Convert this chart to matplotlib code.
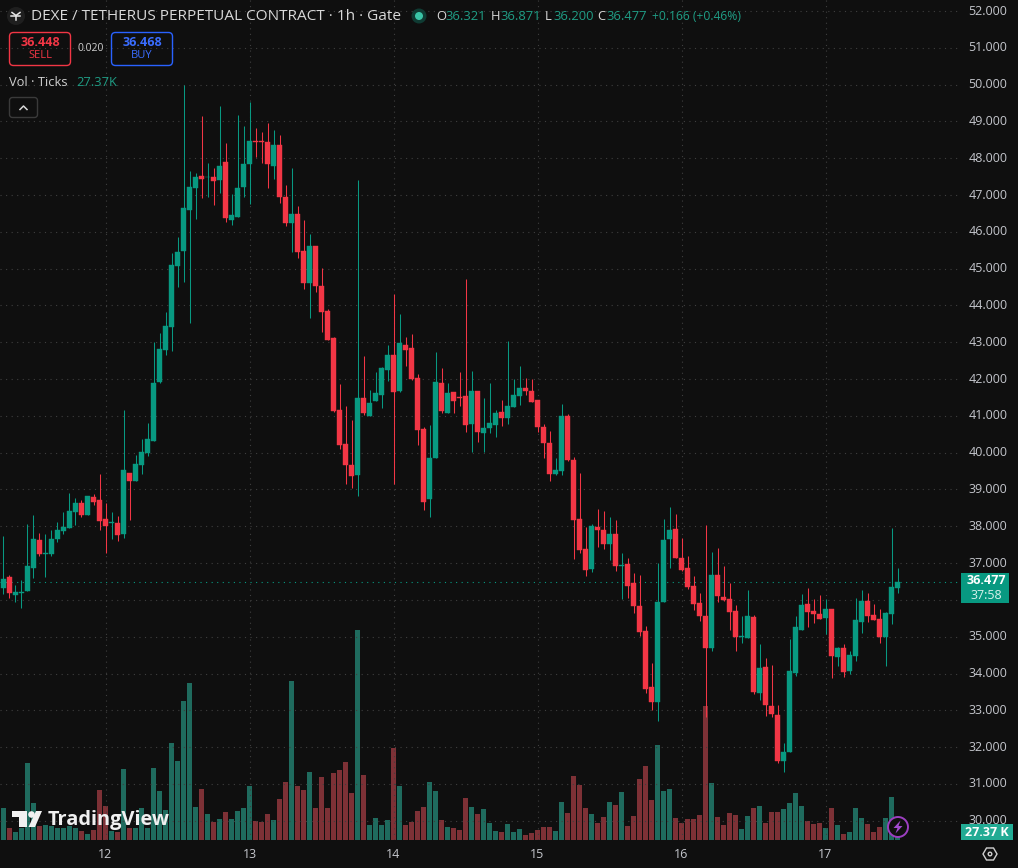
import matplotlib
matplotlib.use("Agg")
import matplotlib.pyplot as plt
from matplotlib.patches import Circle, FancyBboxPatch, Polygon, Rectangle

plt.rcParams["font.family"] = ["Open Sans", "DejaVu Sans"]

BG = "#0f0f0f"
GREEN = "#089981"
RED = "#f23645"
VOL_GREEN = "#1f6b5e"
VOL_RED = "#7d3136"
GRID = "#3f3f3f"
TEXT = "#c4c6cc"

opens = [36.33, 36.62, 36.13, 36.20, 36.24, 36.87, 37.63, 37.26, 37.25, 37.66,
         37.87, 37.95, 38.39, 38.63, 38.31, 38.80, 38.72, 38.20, 38.10, 38.09,
         37.79, 39.45, 39.23, 39.67, 39.99, 40.32, 41.93, 42.79, 43.42, 45.07,
         45.48, 46.59, 47.19, 47.52, 47.48, 47.49, 47.41, 47.90, 46.32, 46.41,
         47.22, 47.85, 48.47, 48.47, 48.44, 47.79, 48.36, 46.95, 46.24, 46.49,
         45.48, 44.61, 45.62, 44.53, 43.85, 43.12, 41.16, 40.24, 39.67, 39.39,
         41.49, 41.00, 41.40, 41.57, 42.25, 42.66, 41.68, 42.93, 42.85, 42.03,
         40.64, 38.74, 39.86, 41.89, 41.08, 41.65, 41.51, 41.54, 40.78, 41.68,
         40.53, 40.67, 40.75, 41.11, 40.94, 41.24, 41.54, 41.76, 41.68, 41.43,
         40.70, 40.26, 39.42, 39.50, 41.00, 39.80, 38.20, 37.38, 36.84, 37.98,
         37.90, 37.52, 37.79, 36.93, 36.97, 36.46, 35.83, 35.15, 33.63, 33.22,
         35.94, 37.65, 37.93, 37.14, 36.87, 36.38, 35.92, 35.56, 34.69, 36.68,
         36.08, 36.02, 35.70, 35.00, 34.97, 35.53, 33.47, 34.18, 33.12, 32.87,
         31.62, 31.87, 34.01, 35.18, 35.89, 35.70, 35.62, 35.51, 35.75, 34.45,
         34.69, 34.07, 34.47, 35.40, 35.97, 35.59, 35.48, 34.99, 35.62, 36.321]
highs = [37.74, 36.67, 36.41, 36.54, 38.06, 38.31, 37.81, 37.79, 37.90, 38.11,
         38.39, 38.91, 38.77, 38.72, 38.82, 38.88, 39.42, 38.63, 38.39, 38.28,
         41.16, 39.45, 39.94, 40.36, 40.81, 43.02, 43.24, 43.81, 45.42, 45.85,
         50.00, 47.65, 47.60, 49.15, 47.86, 47.74, 49.42, 48.41, 47.02, 49.18,
         48.88, 49.53, 48.82, 48.72, 48.96, 48.77, 48.63, 47.27, 47.74, 46.70,
         46.32, 45.94, 45.62, 45.02, 43.90, 43.14, 41.87, 41.27, 40.89, 47.41,
         42.63, 41.70, 42.19, 42.34, 42.93, 44.31, 43.77, 43.14, 43.23, 42.14,
         40.70, 40.75, 42.74, 42.30, 41.89, 41.65, 42.19, 44.72, 42.22, 41.68,
         41.49, 41.88, 41.16, 41.43, 43.03, 42.00, 42.36, 42.03, 42.00, 41.43,
         40.78, 40.59, 39.86, 41.32, 41.05, 39.87, 39.45, 37.98, 38.06, 38.47,
         38.42, 38.25, 38.17, 37.27, 37.14, 36.73, 36.68, 35.29, 34.29, 37.00,
         38.20, 38.52, 38.33, 37.68, 37.19, 36.65, 36.19, 38.04, 37.30, 37.41,
         36.92, 36.46, 35.86, 35.56, 36.27, 35.59, 34.80, 34.42, 34.23, 33.14,
         32.11, 34.94, 35.56, 36.16, 36.32, 36.02, 36.13, 36.02, 35.75, 34.72,
         34.80, 34.61, 36.05, 36.27, 36.19, 35.89, 35.75, 35.67, 37.95, 36.871]
lows = [36.16, 36.05, 35.93, 35.78, 36.24, 36.59, 37.19, 36.62, 37.19, 37.57,
        37.80, 37.95, 38.04, 38.25, 38.31, 38.58, 37.90, 37.28, 37.66, 37.60,
        37.68, 38.17, 39.23, 39.42, 39.91, 40.32, 41.90, 42.65, 42.77, 44.51,
        44.65, 43.53, 46.35, 46.92, 46.95, 46.73, 47.05, 46.27, 46.19, 46.41,
        46.95, 46.76, 48.03, 47.86, 47.19, 47.44, 46.79, 46.16, 45.45, 45.29,
        44.45, 43.66, 44.37, 43.28, 43.06, 41.11, 40.10, 39.15, 39.04, 38.82,
        41.02, 41.00, 41.40, 41.22, 41.95, 39.15, 41.65, 42.36, 41.98, 40.21,
        38.44, 38.25, 39.86, 41.08, 41.08, 41.08, 41.27, 40.56, 40.02, 40.29,
        40.02, 40.53, 40.43, 40.73, 40.78, 41.24, 41.30, 41.57, 41.38, 40.56,
        39.86, 39.23, 39.39, 39.39, 39.77, 37.11, 37.27, 36.65, 36.76, 37.44,
        37.38, 37.08, 36.79, 36.02, 36.04, 35.64, 35.02, 33.47, 33.00, 32.71,
        35.94, 36.87, 37.14, 36.79, 36.30, 35.73, 35.43, 32.82, 34.61, 35.94,
        35.97, 35.18, 34.61, 34.83, 34.97, 33.44, 33.28, 32.85, 32.82, 31.57,
        31.32, 31.87, 33.93, 35.18, 35.26, 35.37, 35.48, 35.07, 33.88, 34.20,
        33.90, 33.99, 34.34, 35.10, 35.40, 35.45, 34.83, 34.20, 35.35, 36.200]
closes = [36.56, 36.19, 36.22, 36.21, 36.93, 37.66, 37.24, 37.27, 37.66, 37.90,
          37.98, 38.42, 38.63, 38.31, 38.82, 38.66, 38.14, 38.01, 38.11, 37.76,
          39.53, 39.23, 39.69, 40.02, 40.37, 41.89, 42.81, 43.44, 45.10, 45.45,
          46.65, 47.22, 47.49, 47.44, 47.49, 47.38, 47.79, 46.38, 46.46, 47.19,
          47.85, 48.47, 48.44, 48.44, 47.85, 48.36, 46.95, 46.24, 46.49, 45.45,
          44.61, 45.62, 44.53, 43.82, 43.06, 41.13, 40.21, 39.67, 39.37, 41.49,
          41.08, 41.35, 41.62, 42.30, 42.66, 41.65, 42.98, 42.79, 42.00, 40.62,
          38.66, 39.86, 41.92, 41.13, 41.62, 41.40, 41.49, 40.75, 41.68, 40.56,
          40.67, 40.81, 41.08, 40.94, 41.27, 41.57, 41.76, 41.68, 41.38, 40.70,
          40.26, 39.42, 39.53, 41.00, 39.80, 38.17, 37.36, 36.81, 38.02, 37.90,
          37.52, 37.79, 36.92, 36.94, 36.38, 35.83, 35.13, 33.58, 33.22, 35.94,
          37.63, 37.90, 37.14, 36.81, 36.35, 35.89, 35.56, 34.69, 36.68, 36.11,
          36.00, 35.67, 34.99, 35.01, 35.56, 33.50, 34.15, 33.14, 32.90, 31.62,
          31.87, 34.07, 35.26, 35.86, 35.67, 35.62, 35.48, 35.75, 34.47, 34.69,
          34.04, 34.50, 35.45, 35.97, 35.56, 35.45, 34.99, 35.64, 36.35, 36.477]
volume_k = [114, 43, 29, 43, 275, 132, 50, 54, 50, 43,
            43, 50, 43, 32, 21, 36, 179, 121, 32, 29,
            253, 43, 43, 114, 43, 257, 175, 107, 346, 282,
            496, 560, 118, 182, 93, 64, 75, 100, 75, 104,
            114, 193, 68, 64, 93, 71, 146, 207, 568, 193,
            179, 243, 114, 225, 114, 239, 250, 278, 168, 750,
            232, 54, 79, 54, 71, 328, 193, 54, 64, 104,
            118, 207, 175, 71, 46, 43, 36, 150, 118, 93,
            111, 61, 32, 29, 57, 29, 39, 18, 25, 36,
            46, 46, 32, 136, 96, 228, 196, 114, 93, 61,
            82, 136, 125, 171, 50, 86, 218, 264, 143, 339,
            175, 182, 79, 61, 75, 75, 89, 478, 203, 82,
            54, 96, 89, 39, 86, 114, 121, 61, 100, 100,
            111, 132, 168, 121, 68, 57, 61, 43, 114, 54,
            21, 29, 114, 79, 57, 29, 46, 79, 154, 27.37]
day_positions = [17, 41, 65, 89, 113, 137]
day_labels = ["12", "13", "14", "15", "16", "17"]
price_ticks = list(range(30, 53))
last_close = closes[-1]

n = len(closes)
xs = list(range(n))
rising = [c >= o for o, c in zip(opens, closes)]
colors = [GREEN if r else RED for r in rising]
vol_colors = [VOL_GREEN if r else VOL_RED for r in rising]
bottoms = [min(o, c) for o, c in zip(opens, closes)]
heights = [abs(c - o) for o, c in zip(opens, closes)]

W, H = 1018, 868
fig = plt.figure(figsize=(W / 100, H / 100), dpi=100, facecolor=BG)
pane = [0, (H - 840) / H, 958 / W, 840 / H]

# volume pane sits under the candles and shares the x axis
ax_vol = fig.add_axes(pane, facecolor=BG)
ax_vol.bar(xs, volume_k, width=0.83, color=vol_colors, linewidth=0)
ax_vol.set_ylim(0, 3000)
ax_vol.set_yticks([])

ax = fig.add_axes(pane, sharex=ax_vol)
ax.patch.set_visible(False)
ax.vlines(xs, lows, highs, colors=colors, linewidth=0.75, zorder=3)
ax.bar(xs, heights, bottom=bottoms, width=0.83, color=colors,
       edgecolor=colors, linewidth=0.3, zorder=4)
ax.set_xlim(-0.583, 159.08)
ax.set_ylim(29.476, 52.30)

ax.set_xticks(day_positions)
ax.set_xticklabels(day_labels)
ax.yaxis.tick_right()
ax.set_yticks(price_ticks)
# 36 sits behind the last price badge, so it gets no label
ax.set_yticklabels(["" if p == 36 else f"{p:.3f}" for p in price_ticks], va="center")
ax.tick_params(axis="x", length=0, pad=6, labelsize=9, labelcolor=TEXT)
ax.tick_params(axis="y", length=0, pad=7.5, labelsize=9, labelcolor=TEXT)
ax_vol.tick_params(axis="x", length=0, labelbottom=False)
ax.grid(True, color=GRID, linewidth=0.8, linestyle=(0, (1, 4)), zorder=1)
ax.set_axisbelow(True)
ax.axhline(last_close, color=GREEN, linewidth=0.8, linestyle=(0, (1, 4)), zorder=2)
for a in (ax, ax_vol):
    for s in a.spines.values():
        s.set_visible(False)

# overlay in pixel space for the header, badges and watermark
ov = fig.add_axes([0, 0, 1, 1])
ov.set_xlim(0, W)
ov.set_ylim(H, 0)
ov.axis("off")
ov.patch.set_visible(False)


def box(x0, y0, x1, y1, edge, face="none", r=4, lw=1.0):
    ov.add_patch(FancyBboxPatch((x0, y0), x1 - x0, y1 - y0,
                                boxstyle=f"round,pad=0,rounding_size={r}",
                                edgecolor=edge, facecolor=face, linewidth=lw))


# symbol icon and title
ov.add_patch(Circle((16, 16), 9, facecolor="#1f1f1f", edgecolor="none"))
ov.plot([12, 16, 20], [12.5, 15.5, 12.5], color="#e8e8e8", lw=1.1)
ov.plot([11.5, 20.5], [16, 16], color="#e8e8e8", lw=1.1)
ov.plot([16, 16], [16, 20], color="#e8e8e8", lw=1.1)
ov.text(31, 16, "DEXE / TETHERUS PERPETUAL CONTRACT · 1h · Gate",
        color="#d8d8d8", fontsize=11.1, va="center", ha="left")
ov.add_patch(Circle((419, 16), 7.5, facecolor="#0f3b33", edgecolor="none"))
ov.add_patch(Circle((419, 16), 4, facecolor="#3ac4a6", edgecolor="none"))

# OHLC readout
ohlc = [("O", 436, 445, opens[-1]), ("H", 491, 500, highs[-1]),
        ("L", 545, 553, lows[-1]), ("C", 597, 606, closes[-1])]
for letter, x_l, x_v, val in ohlc:
    ov.text(x_l, 16, letter, color="#d8d8d8", fontsize=9.4, va="center", ha="left")
    ov.text(x_v, 16, f"{val:.3f}", color="#1f9d85", fontsize=9.4, va="center", ha="left")
ov.text(652, 16, "+0.166 (+0.46%)", color="#1f9d85", fontsize=8.7, va="center", ha="left")

# sell and buy buttons
box(9.5, 32.5, 70.5, 65.5, RED)
ov.text(40, 42, "36.448", color=RED, fontsize=9, fontweight="bold", ha="center", va="center")
ov.text(40, 56, "SELL", color=RED, fontsize=8, ha="center", va="center")
ov.text(91, 48.5, "0.020", color="#d0d0d0", fontsize=7.5, ha="center", va="center")
box(111.5, 32.5, 172.5, 65.5, "#2962ff")
ov.text(142, 42, "36.468", color="#3a6dff", fontsize=9, fontweight="bold", ha="center", va="center")
ov.text(142, 56, "BUY", color="#3a6dff", fontsize=8, ha="center", va="center")

# volume legend and collapse button
ov.text(9, 82.5, "Vol · Ticks", color="#d0d0d0", fontsize=9.3, ha="left", va="center")
ov.text(76, 82.5, "27.37K", color="#1f9d85", fontsize=9.3, ha="left", va="center")
box(9.5, 97.5, 37.5, 117.5, "#3a3a3a", r=3)
ov.plot([20, 23.5, 27], [109.5, 106, 109.5], color="#d8d8d8", lw=1.1)

# last price and last volume badges
ov.add_patch(Rectangle((961, 573), 48, 30, facecolor=GREEN, edgecolor="none"))
ov.text(986, 581, f"{last_close:.3f}", color="white", fontsize=9, fontweight="bold", ha="center", va="center")
ov.text(986, 595.5, "37:58", color="#d9f2ec", fontsize=9, ha="center", va="center")
ov.add_patch(Rectangle((961, 824), 52, 16, facecolor="#22ab94", edgecolor="none"))
ov.text(987, 832, "27.37 K", color="white", fontsize=9, fontweight="bold", ha="center", va="center")

# TradingView watermark
ov.add_patch(Polygon([(12, 811), (27, 811), (27, 827), (19.5, 827), (19.5, 817), (12, 817)],
                     facecolor="#f0f0f0", edgecolor="none"))
ov.add_patch(Circle((31.5, 814.5), 3.3, facecolor="#f0f0f0", edgecolor="none"))
ov.add_patch(Polygon([(36, 811), (42, 811), (35, 827), (28.5, 827)],
                     facecolor="#f0f0f0", edgecolor="none"))
ov.text(48, 820, "TradingView", color="#f0f0f0", fontsize=14.4, fontweight="bold", ha="left", va="center")

# bolt marker on the last bar
ov.add_patch(Circle((898, 827), 10, facecolor=BG, edgecolor="#9c3fc0", linewidth=1.4))
ov.add_patch(Polygon([(900.5, 820.5), (893.5, 828), (897.5, 828), (895.5, 833.5),
                      (902.5, 826), (898.5, 826)],
                     facecolor="#a24bd0", edgecolor="none"))

# settings hexagon
ov.add_patch(Polygon([(983, 854), (986.5, 848), (993.5, 848), (997, 854), (993.5, 860), (986.5, 860)],
                     facecolor="none", edgecolor="#d0d0d0", linewidth=1.0))
ov.add_patch(Circle((990, 854), 1.8, facecolor="none", edgecolor="#d0d0d0", linewidth=1.0))

fig.savefig("out.png", dpi=100, facecolor=BG)
